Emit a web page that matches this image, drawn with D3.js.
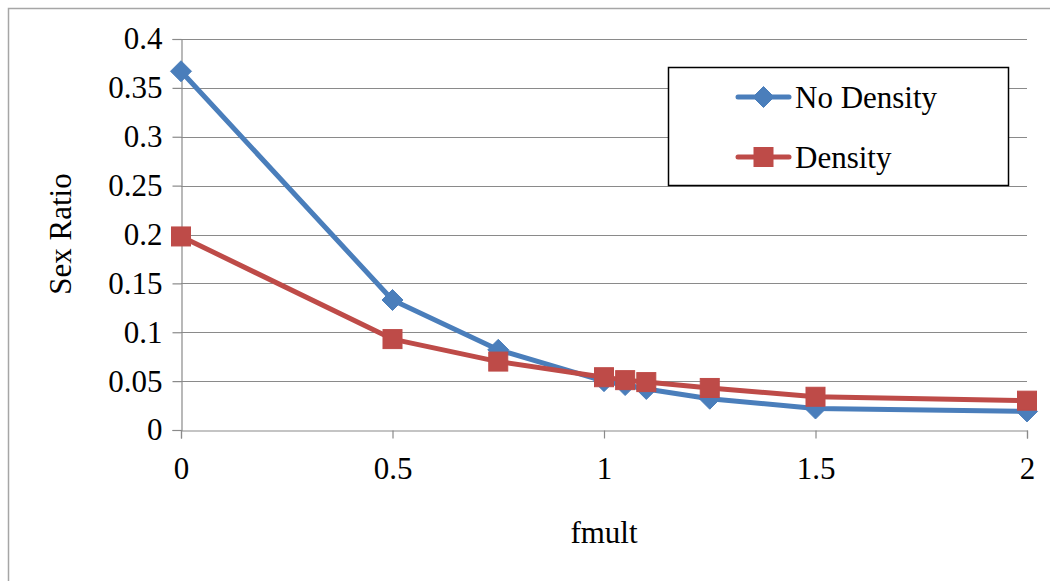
<!DOCTYPE html>
<html>
<head>
<meta charset="utf-8">
<script src="https://cdn.jsdelivr.net/npm/d3@7"></script>
<style>
html,body{margin:0;padding:0;background:#fff;}
svg{display:block;}
svg text{font-family:"Liberation Serif","Times New Roman",Times,"DejaVu Serif",serif !important;fill:#000;}
</style>
</head>
<body>
<svg id="chart" width="1050" height="581"></svg>
<script>
const fmult = [0, 0.5, 0.75, 1, 1.05, 1.1, 1.25, 1.5, 2];
const noDensity = [0.367, 0.133, 0.082, 0.050, 0.046, 0.042, 0.032, 0.022, 0.019];
const density = [0.198, 0.093, 0.070, 0.054, 0.051, 0.049, 0.043, 0.034, 0.030];
const seriesNames = ["No Density", "Density"];
const yTicks = [0, 0.05, 0.1, 0.15, 0.2, 0.25, 0.3, 0.35, 0.4];
const xTicks = [0, 0.5, 1, 1.5, 2];

const svg = d3.select("#chart");
const FS = 31;
const FF = "'Liberation Serif', 'Times New Roman', Times, serif";
const grid = "#8a8a8a";

// outer border
svg.append("path").attr("d", "M8.5,581 V8.5 H1050").attr("fill", "none")
  .attr("stroke", "#a6a6a6").attr("stroke-width", 1.5);

const x = d3.scaleLinear().domain([0, 2]).range([181, 1027]);
const y = d3.scaleLinear().domain([0, 0.4]).range([430, 39]);

// gridlines
svg.append("g").selectAll("line").data(yTicks.filter(d => d > 0)).join("line")
  .attr("x1", x(0)).attr("x2", x(2))
  .attr("y1", d => Math.round(y(d)) + 0.5).attr("y2", d => Math.round(y(d)) + 0.5)
  .attr("stroke", grid).attr("stroke-width", 1.2);

// y axis
const yAxis = svg.append("g").attr("transform", `translate(${x(0) + 0.5},0)`)
  .call(d3.axisLeft(y).tickValues(yTicks).tickSize(9).tickPadding(10)
    .tickFormat(d => d3.format("~g")(+d.toFixed(2))));
yAxis.attr("font-family", FF).attr("font-size", FS);
yAxis.select(".domain").attr("stroke", grid).attr("stroke-width", 1.2);
yAxis.selectAll(".tick line").attr("stroke", grid).attr("stroke-width", 1.2);
yAxis.selectAll(".tick text").style("font-size", FS + "px").style("font-family", FF);

// x axis
const xAxis = svg.append("g").attr("transform", `translate(0,${Math.round(y(0)) + 0.5})`)
  .call(d3.axisBottom(x).tickValues(xTicks).tickSize(8).tickPadding(18)
    .tickFormat(d => d3.format("~g")(d)));
xAxis.attr("font-family", FF).attr("font-size", FS);
xAxis.select(".domain").attr("stroke", grid).attr("stroke-width", 1.2);
xAxis.selectAll(".tick line").attr("stroke", grid).attr("stroke-width", 1.2);
xAxis.selectAll(".tick text").style("font-size", FS + "px").style("font-family", FF);

// axis titles
svg.append("text").attr("x", x(1)).attr("y", 543).attr("text-anchor", "middle")
  .style("font-size", FS + "px").style("font-family", FF).text("fmult");
svg.append("text").attr("transform", "translate(71,234) rotate(-90)")
  .attr("text-anchor", "middle").style("font-size", FS + "px").style("font-family", FF).text("Sex Ratio");

const colors = ["#4A7EBB", "#BE4B48"];
const data = [noDensity, density];
const line = d3.line().x(d => x(d[0])).y(d => y(d[1]));

function marker(g, type, cx, cy, color) {
  if (type === 0) {
    g.append("path").attr("d", `M${cx},${cy - 10.5} L${cx + 10.5},${cy} L${cx},${cy + 10.5} L${cx - 10.5},${cy} Z`)
      .attr("fill", color).attr("stroke", color).attr("stroke-width", 1);
  } else {
    g.append("rect").attr("x", cx - 9.5).attr("y", cy - 9.5).attr("width", 19).attr("height", 19)
      .attr("fill", color).attr("stroke", color).attr("stroke-width", 1);
  }
}

data.forEach((vals, i) => {
  const g = svg.append("g");
  const pts = fmult.map((f, j) => [f, vals[j]]);
  g.append("path").attr("d", line(pts)).attr("fill", "none")
    .attr("stroke", colors[i]).attr("stroke-width", 5).attr("stroke-linejoin", "round").attr("stroke-linecap", "round");
  pts.forEach(p => marker(g, i, x(p[0]), y(p[1]), colors[i]));
});

// legend
const lg = svg.append("g");
lg.append("rect").attr("x", 668.5).attr("y", 67.5).attr("width", 340).attr("height", 118)
  .attr("fill", "#fff").attr("stroke", "#000").attr("stroke-width", 1.5);
const legY = [97, 157];
seriesNames.forEach((name, i) => {
  lg.append("line").attr("x1", 738).attr("x2", 789).attr("y1", legY[i]).attr("y2", legY[i])
    .attr("stroke", colors[i]).attr("stroke-width", 5).attr("stroke-linecap", "round");
  marker(lg, i, 763.5, legY[i], colors[i]);
  lg.append("text").attr("x", 795).attr("y", legY[i] + 11)
    .style("font-size", FS + "px").style("font-family", FF).text(name);
});
</script>
</body>
</html>
